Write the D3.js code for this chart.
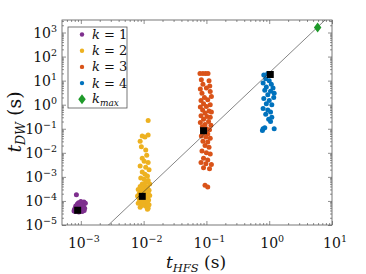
<!DOCTYPE html>
<html>
<head>
<meta charset="utf-8">
<script src="https://cdn.jsdelivr.net/npm/d3@7"></script>
<style>
  body { margin: 0; background: #fff; }
</style>
</head>
<body>
<div class="chart"></div>
<script>
// data: [t_HFS, t_DW] in seconds
const k1 = [[8.5e-4,1.8e-4],[1.0e-3,9.5e-5],[1.12e-3,9e-5],[1.18e-3,8e-5],[9.2e-4,8.5e-5],[8.8e-4,7.5e-5],[9.6e-4,7e-5],[1.05e-3,6.8e-5],[1.1e-3,6e-5],[8.3e-4,6.2e-5],[9e-4,5.8e-5],[1.0e-3,5.5e-5],[1.15e-3,5e-5],[8.1e-4,5e-5],[9.4e-4,4.8e-5],[1.08e-3,4.5e-5],[7.9e-4,4.3e-5],[8.7e-4,4.2e-5],[1.0e-3,4e-5],[1.13e-3,4e-5],[8.2e-4,3.6e-5],[9.3e-4,3.5e-5],[1.05e-3,3.6e-5],[7.8e-4,3.8e-5],[9.7e-4,6.4e-5]];
const k2 = [[0.0118,0.22],[0.0095,0.05],[0.0118,0.055],[0.0105,0.045],[0.0088,0.03],[0.0092,0.018],[0.0108,0.013],[0.0112,0.008],[0.0095,0.006],[0.0102,0.0045],[0.0118,0.004],[0.0088,0.0028],[0.0108,0.0025],[0.0122,0.002],[0.0095,0.0016],[0.0105,0.0013],[0.0115,0.0011],[0.009,0.0009],[0.0102,0.0008],[0.0118,0.0007],[0.0108,0.0006],[0.0095,0.0005],[0.0125,0.0005],[0.0088,0.0004],[0.0105,0.00042],[0.0115,0.00038],[0.0098,0.00033],[0.0082,0.0003],[0.011,0.0003],[0.0122,0.00028],[0.009,0.00025],[0.0102,0.00024],[0.0118,0.00022],[0.0085,0.0002],[0.0096,0.00019],[0.0108,0.00018],[0.0125,0.00017],[0.008,0.00016],[0.0092,0.00015],[0.0115,0.00014],[0.0103,0.00013],[0.0085,0.00012],[0.0098,0.00011],[0.012,0.00011],[0.0108,0.0001],[0.009,0.00009],[0.0115,0.000085],[0.0082,0.00008],[0.01,0.000075],[0.0122,0.00007],[0.0093,0.000065],[0.0108,0.00006],[0.0088,0.000055],[0.0118,0.00005],[0.0115,0.000045],[0.0098,0.00007]];
const k3 = [[0.079,20],[0.088,20],[0.097,20],[0.106,20],[0.083,11],[0.11,10],[0.088,7],[0.113,6],[0.08,4.5],[0.1,5],[0.085,3],[0.115,3.5],[0.093,2],[0.12,2.2],[0.082,1.5],[0.105,1.6],[0.09,1.1],[0.115,1],[0.08,0.8],[0.1,0.85],[0.087,0.6],[0.11,0.55],[0.095,0.45],[0.12,0.5],[0.082,0.35],[0.102,0.32],[0.115,0.3],[0.09,0.25],[0.108,0.2],[0.08,0.18],[0.095,0.15],[0.118,0.14],[0.086,0.12],[0.1,0.1],[0.112,0.09],[0.09,0.07],[0.105,0.06],[0.083,0.05],[0.098,0.045],[0.115,0.04],[0.088,0.03],[0.105,0.028],[0.095,0.02],[0.11,0.017],[0.085,0.012],[0.1,0.01],[0.115,0.009],[0.09,0.006],[0.105,0.005],[0.082,0.004],[0.098,0.0035],[0.12,0.0033],[0.09,0.0024],[0.112,0.0022],[0.095,0.00045],[0.105,0.00038]];
const k4 = [[0.95,20],[0.82,17],[0.88,12],[1.0,10],[0.8,8],[1.08,7],[0.9,5.5],[1.15,5],[0.85,4],[1.05,3.6],[1.2,3],[0.95,2.6],[1.18,2],[0.82,1.8],[1.0,1.5],[0.9,1.1],[1.1,1.0],[0.8,0.7],[0.95,0.6],[1.05,0.5],[0.88,0.4],[1.1,0.3],[0.98,0.25],[1.05,0.2],[0.8,0.1],[0.78,0.085],[0.85,0.11],[1.2,0.1]];
const meanPts = [[8.9e-4,4.1e-5],[0.0095,1.55e-4],[0.09,0.083],[1.04,18]];
const kmax = [5.9, 1630];
const fitSlope = 2.47;   // log-log fit  t_DW = fitCoef * t_HFS^fitSlope
const fitCoef = 21;
const seriesNames = ["k = 1", "k = 2", "k = 3", "k = 4"];
const seriesColors = ["#7e2f8e", "#edb120", "#d95319", "#0072bd"];
const xDecades = [-3, -2, -1, 0, 1];
const yDecades = [-5, -4, -3, -2, -1, 0, 1, 2, 3];

const W = 366, H = 274;
const m = { left: 62, right: 34, top: 20, bottom: 49 };
const FONT = "'DejaVu Serif', 'Liberation Serif', serif";

const svg = d3.select(".chart").append("svg").attr("width", W).attr("height", H)
  .attr("font-family", FONT);

const x = d3.scaleLog().domain([Math.pow(10, -3.3), 10]).range([m.left, W - m.right]);
const y = d3.scaleLog().domain([1e-5, Math.pow(10, 3.52)]).range([H - m.bottom, m.top]);

// tick values (majors + minors)
const minorOf = decs => {
  const out = [];
  decs.forEach(d => { for (let i = 2; i <= 9; i++) out.push(i * Math.pow(10, d)); });
  return out;
};
const inX = v => v >= x.domain()[0] && v <= x.domain()[1];
const inY = v => v >= y.domain()[0] && v <= y.domain()[1];
const xMaj = xDecades.map(d => Math.pow(10, d)).filter(inX);
const xMin = minorOf([-4, -3, -2, -1, 0]).filter(inX);
const yMaj = yDecades.map(d => Math.pow(10, d)).filter(inY);
const yMin = minorOf([-5, -4, -3, -2, -1, 0, 1, 2, 3]).filter(inY);

const tickColor = "#444";
const drawAxis = (axis, tr, vals, len) => {
  const g = svg.append("g").attr("transform", tr)
    .call(axis.tickValues(vals).tickFormat("").tickSizeInner(len).tickSizeOuter(0));
  g.select(".domain").remove();
  g.selectAll("line").attr("stroke", tickColor).attr("stroke-width", 0.6);
};
const bY = H - m.bottom, rX = W - m.right;
// inward ticks: negative sizes
drawAxis(d3.axisBottom(x), `translate(0,${bY})`, xMaj, -4);
drawAxis(d3.axisBottom(x), `translate(0,${bY})`, xMin, -2);
drawAxis(d3.axisTop(x), `translate(0,${m.top})`, xMaj, -4);
drawAxis(d3.axisTop(x), `translate(0,${m.top})`, xMin, -2);
drawAxis(d3.axisLeft(y), `translate(${m.left},0)`, yMaj, -4);
drawAxis(d3.axisLeft(y), `translate(${m.left},0)`, yMin, -2);
drawAxis(d3.axisRight(y), `translate(${rX},0)`, yMaj, -4);
drawAxis(d3.axisRight(y), `translate(${rX},0)`, yMin, -2);

// frame
svg.append("rect").attr("x", m.left).attr("y", m.top)
  .attr("width", rX - m.left).attr("height", bY - m.top)
  .attr("fill", "none").attr("stroke", "#555").attr("stroke-width", 0.8);

// tick labels with superscripts
const supText = d => d < 0 ? "\u2212" + (-d) : String(d);
xDecades.forEach(d => {
  const t = svg.append("text").attr("x", x(Math.pow(10, d)) + 3).attr("y", bY + 23)
    .attr("text-anchor", "middle").attr("font-size", 14).attr("fill", "#111");
  t.append("tspan").text("10");
  t.append("tspan").attr("dy", -6).attr("font-size", 9.5).text(supText(d));
});
yDecades.forEach(d => {
  const t = svg.append("text").attr("x", m.left - 5).attr("y", y(Math.pow(10, d)) + 5)
    .attr("text-anchor", "end").attr("font-size", 14).attr("fill", "#111");
  t.append("tspan").text("10");
  t.append("tspan").attr("dy", -6).attr("font-size", 9.5).text(supText(d));
});

// axis titles
const xt = svg.append("text").attr("x", 196).attr("y", 268).attr("text-anchor", "middle")
  .attr("font-size", 17).attr("fill", "#111");
xt.append("tspan").attr("font-style", "italic").text("t");
xt.append("tspan").attr("dy", 3.5).attr("font-style", "italic").attr("font-size", 11.5).text("HFS");
xt.append("tspan").attr("dy", -3.5).text(" (s)");

const yt = svg.append("text").attr("transform", "translate(21,122) rotate(-90)")
  .attr("text-anchor", "middle").attr("font-size", 19).attr("fill", "#111");
yt.append("tspan").attr("font-style", "italic").text("t");
yt.append("tspan").attr("dy", 4).attr("font-style", "italic").attr("font-size", 12.5).text("DW");
yt.append("tspan").attr("dy", -4).text(" (s)");

// clip for plot area
svg.append("clipPath").attr("id", "clip").append("rect")
  .attr("x", m.left).attr("y", m.top).attr("width", rX - m.left).attr("height", bY - m.top);
const plot = svg.append("g").attr("clip-path", "url(#clip)");

// scatter
[k1, k2, k3, k4].forEach((s, i) => {
  plot.append("g").selectAll("circle").data(s).enter().append("circle")
    .attr("cx", d => x(d[0])).attr("cy", d => y(d[1])).attr("r", 2.5)
    .attr("fill", seriesColors[i]);
});

// fit line
const fx = [1e-4, 20];
plot.append("line")
  .attr("x1", x(fx[0])).attr("y1", y(fitCoef * Math.pow(fx[0], fitSlope)))
  .attr("x2", x(fx[1])).attr("y2", y(fitCoef * Math.pow(fx[1], fitSlope)))
  .attr("stroke", "#333").attr("stroke-width", 0.6);

// mean squares
plot.selectAll("rect.mean").data(meanPts).enter().append("rect").attr("class", "mean")
  .attr("x", d => x(d[0]) - 3.5).attr("y", d => y(d[1]) - 3.5)
  .attr("width", 7).attr("height", 7).attr("fill", "#000");

// kmax diamond
const diamond = s => `M0,${-s} L${s * 0.75},0 L0,${s} L${-s * 0.75},0 Z`;
plot.append("path").attr("d", diamond(5))
  .attr("transform", `translate(${x(kmax[0])},${y(kmax[1])})`)
  .attr("fill", "#1f9a2a");

// legend
const lg = svg.append("g");
lg.append("rect").attr("x", 68).attr("y", 27).attr("width", 59).attr("height", 81)
  .attr("fill", "#fff").attr("stroke", "#555").attr("stroke-width", 0.8);
seriesNames.forEach((n, i) => {
  const yy = 34.5 + i * 16.2;
  lg.append("circle").attr("cx", 82).attr("cy", yy).attr("r", 2.2).attr("fill", seriesColors[i]);
  const t = lg.append("text").attr("x", 92).attr("y", yy + 4.5).attr("font-size", 13).attr("fill", "#111");
  t.append("tspan").attr("font-style", "italic").text("k");
  t.append("tspan").text(" = " + n.split("= ")[1]);
});
lg.append("path").attr("d", diamond(5)).attr("transform", "translate(82,99.3)").attr("fill", "#1f9a2a");
const km = lg.append("text").attr("x", 92).attr("y", 103).attr("font-size", 13)
  .attr("font-style", "italic").attr("fill", "#111");
km.append("tspan").text("k");
km.append("tspan").attr("dy", 3).attr("font-size", 9).text("max");
</script>
</body>
</html>
